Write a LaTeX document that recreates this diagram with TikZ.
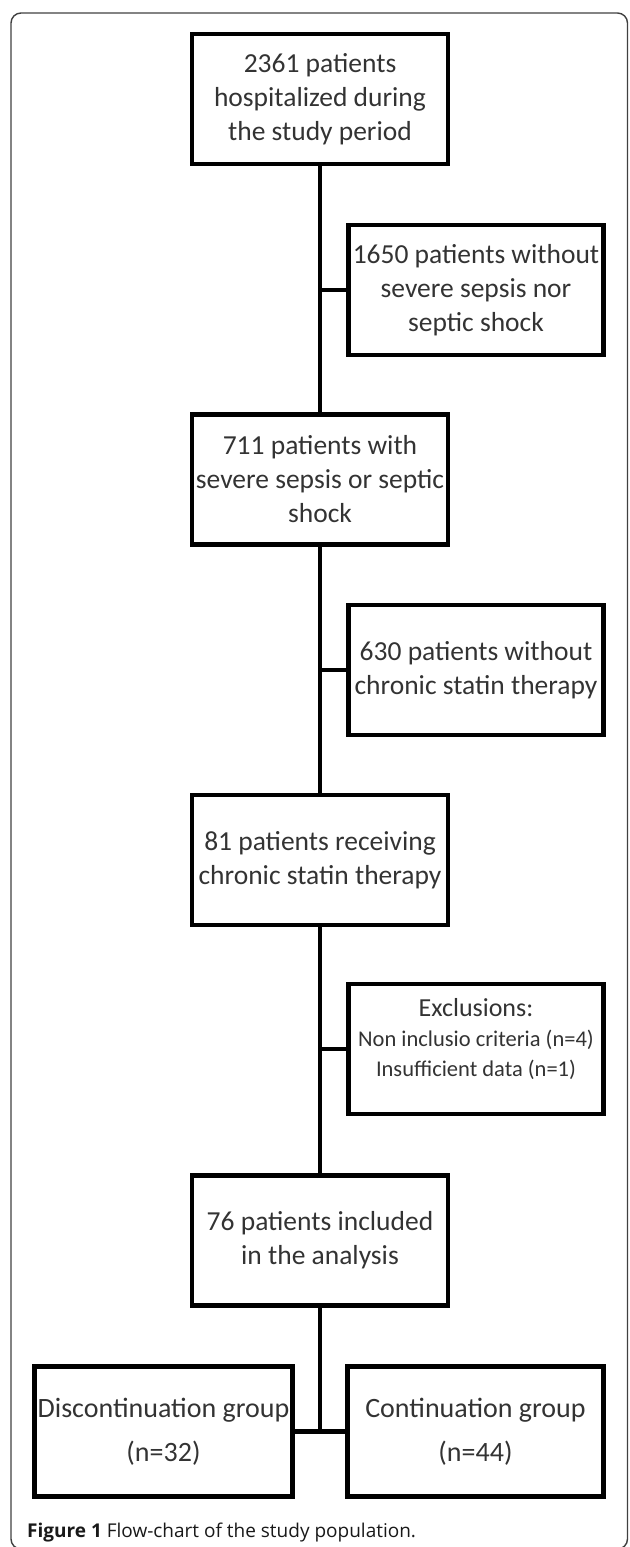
\documentclass[tikz,border=0pt]{standalone}
\usepackage{fontspec}
\setmainfont{Carlito}
\newfontfamily\capfont{Open Sans}
\usepackage{tikz}
\usetikzlibrary{positioning}
\tikzset{every node/.style={text=black!80}}
\tikzset{stepbox/.style={draw=black, line width=4.5pt, inner sep=0pt, align=center,
  minimum width=256pt, minimum height=130pt, font=\fontsize{27.5}{34}\selectfont}}
\tikzset{sidebox/.style={stepbox, minimum width=255pt}}
\tikzset{groupbox/.style={stepbox, font=\fontsize{28}{44}\selectfont}}
\tikzset{link/.style={draw=black, line width=4.5pt}}

\begin{document}
\begin{tikzpicture}[x=1pt, y=-1pt, node distance=246pt]
  % page size of the figure, y grows downwards
  \useasboundingbox (0,0) rectangle (629,1547);
  \draw[black!75, line width=1.4pt, rounded corners=10pt] (11,13) rectangle (627.5,1549);

  % Main column, each step straight below the previous one
  \node[stepbox] (hosp) at (320,99) {2361 patients\\hospitalized during\\the study period};
  \node[stepbox] (sepsis) [below = of hosp] {711 patients with\\severe sepsis or septic\\shock};
  \node[stepbox] (statin) [below = of sepsis] {81 patients receiving\\chronic statin therapy};
  \node[stepbox] (incl) [below = of statin] {76 patients included\\in the analysis};

  % Boxes of the patients left out, to the right of the column
  \node[sidebox] (nosepsis) at (476,290) {1650 patients without\\severe sepsis nor\\septic shock};
  \node[sidebox] (nostatin) at (476,670) {630 patients without\\chronic statin therapy};
  \node[sidebox, font=\fontsize{22.5}{30}\selectfont] (excl) at (476,1049)
    {{\fontsize{26}{30}\selectfont Exclusions:}\\
     Non inclusio criteria (n=4)\\
     Insufficient data (n=1)\\[-6pt]\mbox{}};

  % The two groups
  \node[groupbox, minimum width=258pt] (discont) at (163.5,1431.5) {Discontinuation group\\(n=32)};
  \node[groupbox] (cont) at (475.5,1431.5) {Continuation group\\(n=44)};

  \path[link] (hosp) -- (sepsis) -- (statin) -- (incl);
  \path[link] (nosepsis.west) -- (nosepsis.west -| hosp.south);
  \path[link] (nostatin.west) -- (nostatin.west -| sepsis.south);
  \path[link] (excl.west) -- (excl.west -| statin.south);
  \path[link] (discont) -- (cont);
  \path[link] (incl) -- (incl |- discont);

  \node[anchor=base west, inner sep=0pt, font=\capfont\fontsize{19}{22}\selectfont, text=black!90] (caption) at (27,1537)
    {\textbf{Figure 1} Flow-chart of the study population.};
\end{tikzpicture}
\end{document}
